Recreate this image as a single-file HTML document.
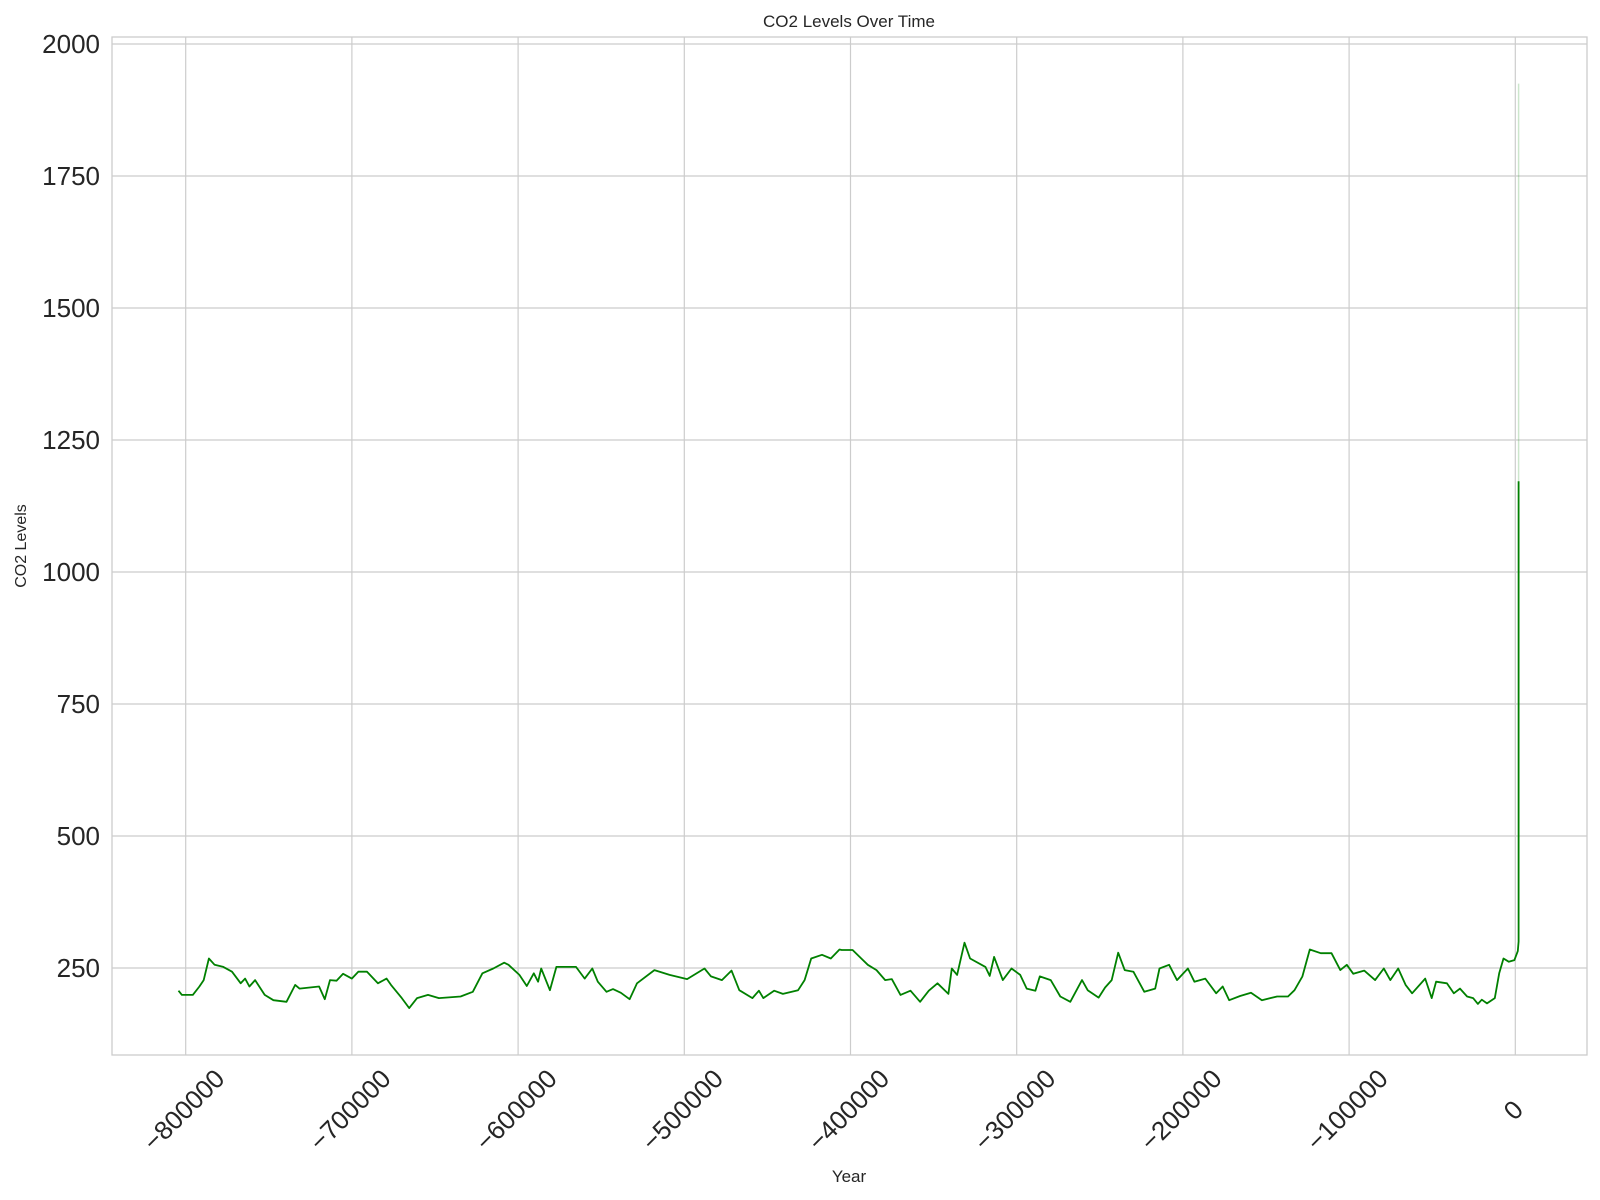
<!DOCTYPE html>
<html><head><meta charset="utf-8"><style>
body{margin:0;background:#fff;font-family:"Liberation Sans",Arial,sans-serif}
svg{display:block}
</style></head><body>
<svg id="chart" width="1600" height="1200">
<rect x="0" y="0" width="1600" height="1200" fill="#fff"/>
<g id="grid"></g>
<rect x="112" y="37" width="1475" height="1018" fill="none" stroke="#cccccc" stroke-width="1.3"/>
<g id="series"></g>
<g id="ticks"></g>
<text x="849" y="27" font-size="17" text-anchor="middle" fill="#262626">CO2 Levels Over Time</text>
<text x="849" y="1182" font-size="17" text-anchor="middle" fill="#262626">Year</text>
<text transform="translate(26,546) rotate(-90)" font-size="16" text-anchor="middle" fill="#262626">CO2 Levels</text>
</svg>
<script>
const years=[-804356,-802260,-795710,-791780,-789160,-786020,-782610,-777370,-772130,-766890,-764270,-761650,-758240,-752480,-747240,-739380,-734140,-731520,-719730,-716320,-713180,-709250,-705320,-700080,-696150,-690910,-684360,-679120,-676500,-669950,-665500,-660780,-654230,-647680,-634580,-627240,-621480,-614930,-608380,-605760,-599210,-594760,-590560,-587940,-586110,-580870,-576940,-565150,-559910,-555370,-552050,-546810,-542880,-538160,-532920,-528470,-517990,-508820,-498340,-487860,-483930,-477380,-471620,-466900,-459040,-455110,-452490,-445940,-440700,-431530,-427600,-423670,-417120,-411880,-406640,-405310,-398760,-393520,-389590,-384350,-379110,-375180,-369940,-363910,-358150,-352910,-347670,-341120,-339030,-335880,-331430,-328020,-318850,-316230,-313610,-308370,-303130,-297890,-293960,-288720,-286100,-279550,-273790,-267760,-260690,-257280,-250730,-246800,-242870,-238940,-235010,-229770,-223220,-216670,-214050,-208290,-203570,-197020,-193090,-186540,-179990,-176060,-172130,-165580,-159030,-152480,-143310,-136760,-132830,-128110,-123660,-117110,-110560,-105320,-101390,-97460,-90910,-84360,-79120,-75190,-70470,-66020,-62090,-54230,-50300,-47680,-41130,-37000,-33270,-29000,-25410,-22500,-20170,-17000,-12310,-9690,-7070,-4000,-520,1500,2000,2000];
const co2=[207,199,199,215,227,268,256,252,243,221,230,215,227,199,189,186,218,211,215,191,227,226,239,230,243,243,221,230,218,193,174,193,199,193,196,205,240,249,260,256,237,216,240,224,249,208,252,252,230,249,224,205,210,203,191,221,246,237,229,249,234,227,245,208,193,207,193,207,201,208,227,268,275,268,285,284,284,268,256,246,227,229,199,207,186,207,221,201,249,237,298,268,252,235,271,227,249,237,211,207,234,227,196,186,227,208,194,213,227,279,246,243,205,211,249,256,227,249,224,230,202,215,189,197,203,189,196,196,208,234,285,278,278,246,256,239,245,227,249,227,249,218,202,230,193,224,221,202,211,196,193,182,190,183,193,240,268,262,265,282,300,1172];
const faintYears=[2000,2000];
const faintCo2=[1172,1925];
const yTicks=[250,500,750,1000,1250,1500,1750,2000];
const xTicks=[-800000,-700000,-600000,-500000,-400000,-300000,-200000,-100000,0];
const xTickLabels=["\u2212800000","\u2212700000","\u2212600000","\u2212500000","\u2212400000","\u2212300000","\u2212200000","\u2212100000","0"];

const NS="http://www.w3.org/2000/svg";
function X(v){return 185.7+(v+800000)*166.2/100000;}
function Y(v){return 968-(v-250)*132/250;}
const grid=document.getElementById('grid'),ticks=document.getElementById('ticks'),series=document.getElementById('series');
yTicks.forEach(t=>{
  const l=document.createElementNS(NS,'line');
  l.setAttribute('x1',112);l.setAttribute('x2',1587);l.setAttribute('y1',Y(t));l.setAttribute('y2',Y(t));
  l.setAttribute('stroke','#cccccc');l.setAttribute('stroke-width','1.2');
  
  
  grid.appendChild(l);
  const tx=document.createElementNS(NS,'text');
  tx.setAttribute('x',100);tx.setAttribute('y',Y(t)+9);tx.setAttribute('font-size','26');
  tx.setAttribute('text-anchor','end');tx.setAttribute('fill','#262626');
  tx.textContent=t;
  
  
  ticks.appendChild(tx);
});
xTicks.forEach((t,i)=>{
  const l=document.createElementNS(NS,'line');
  l.setAttribute('x1',X(t));l.setAttribute('x2',X(t));l.setAttribute('y1',37);l.setAttribute('y2',1055);
  l.setAttribute('stroke','#cccccc');l.setAttribute('stroke-width','1.2');
  
  
  grid.appendChild(l);
  const tx=document.createElementNS(NS,'text');
  const cx=X(t)-2,cy=1110;
  tx.setAttribute('transform','translate('+cx+','+cy+') rotate(-45)');
  tx.setAttribute('font-size','26');tx.setAttribute('text-anchor','middle');
  tx.setAttribute('dy','9');tx.setAttribute('fill','#262626');
  tx.textContent=xTickLabels[i];
  
  
  ticks.appendChild(tx);
});
function poly(xs,ys,color,w,op){
  const p=document.createElementNS(NS,'polyline');
  p.setAttribute('points',xs.map((x,i)=>X(x).toFixed(1)+','+Y(ys[i]).toFixed(1)).join(' '));
  p.setAttribute('fill','none');p.setAttribute('stroke',color);p.setAttribute('stroke-width',w);
  p.setAttribute('stroke-opacity',op);p.setAttribute('stroke-linejoin','round');
  series.appendChild(p);return p;
}
const f=poly(faintYears,faintCo2,'#008000',1.5,0.2);


const m=poly(years,co2,'#008000',1.8,1);


</script>
</body></html>
